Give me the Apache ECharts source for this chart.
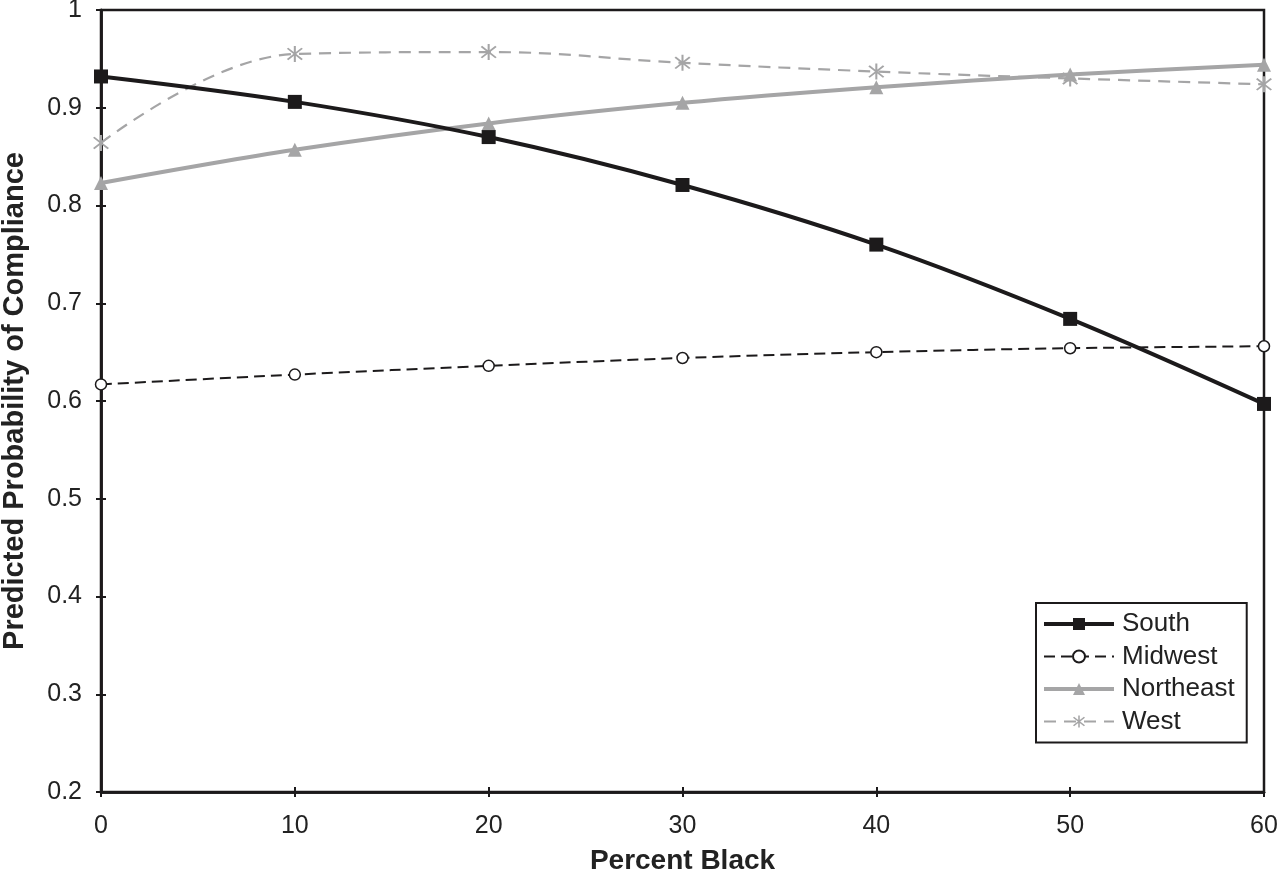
<!DOCTYPE html>
<html>
<head>
<meta charset="utf-8">
<script src="https://cdn.jsdelivr.net/npm/echarts@6/dist/echarts.min.js"></script>
<style>html,body{margin:0;padding:0;background:#fff}#c{width:1278px;height:878px}</style>
</head>
<body>
<div id="c"></div>
<script>
var percentBlack = [0, 10, 20, 30, 40, 50, 60];
var south     = [0.932, 0.906, 0.870, 0.821, 0.760, 0.684, 0.597];
var midwest   = [0.617, 0.627, 0.636, 0.644, 0.650, 0.654, 0.656];
var northeast = [0.823, 0.857, 0.884, 0.905, 0.921, 0.934, 0.944];
var west      = [0.864, 0.955, 0.957, 0.946, 0.937, 0.930, 0.924];
var seriesNames = ['South', 'Midwest', 'Northeast', 'West'];

function pairs(ys) { return percentBlack.map(function (x, i) { return [x, ys[i]]; }); }

var DARK = '#1c1a1b', GRAY = '#a5a5a6';
var FONT = '"Liberation Sans", Arial, sans-serif';
var asterisk = 'path://M9,0L11,0L11,20L9,20Z' +
  'M3.6,2.2L17.8,16.4L16.4,17.8L2.2,3.6Z' +
  'M16.4,2.2L17.8,3.6L3.6,17.8L2.2,16.4Z';

function baseX(inside, show) {
  return {
    type: 'value', min: 0, max: 60, interval: 10, position: 'bottom',
    axisLine: { show: true, onZero: false, lineStyle: { color: DARK, width: 2.5 } },
    axisTick: { show: true, inside: inside, length: 5, lineStyle: { color: DARK, width: 2 } },
    axisLabel: { show: show, color: '#222', fontSize: 25, fontFamily: FONT, margin: 22 },
    splitLine: { show: false }
  };
}
function baseY(inside, show) {
  return {
    type: 'value', min: 0.2, max: 1, interval: 0.1, position: 'left',
    axisLine: { show: true, onZero: false, lineStyle: { color: DARK, width: 2.5 } },
    axisTick: { show: true, inside: inside, length: 5, lineStyle: { color: DARK, width: 2 } },
    axisLabel: { show: show, color: '#222', fontSize: 25, fontFamily: FONT, margin: 19,
      formatter: function (v) { return String(Math.round(v * 10) / 10); } },
    splitLine: { show: false }
  };
}

var xMain = baseX(false, true);
xMain.name = 'Percent Black';
xMain.nameLocation = 'middle';
xMain.nameGap = 55;
xMain.nameTextStyle = { fontSize: 28, fontWeight: 'bold', color: '#222', fontFamily: FONT };
var yMain = baseY(false, true);
yMain.name = 'Predicted Probability of Compliance';
yMain.nameLocation = 'middle';
yMain.nameGap = 72;
yMain.nameTextStyle = { fontSize: 29, fontWeight: 'bold', color: '#222', fontFamily: FONT };

var legendWidths = { South: 4, Midwest: 2, Northeast: 4, West: 2.2 };

var chart = echarts.init(document.getElementById('c'), null, { renderer: 'canvas' });
chart.setOption({
  animation: false,
  backgroundColor: '#fff',
  grid: { left: 101, right: 14, top: 10, bottom: 86, containLabel: false, outerBoundsMode: 'none',
    show: true, borderColor: DARK, borderWidth: 2.5, backgroundColor: 'transparent' },
  xAxis: [xMain, baseX(true, false)],
  yAxis: [yMain, baseY(true, false)],
  legend: {
    orient: 'vertical', left: 1036, top: 603,
    data: seriesNames.map(function (n) { return { name: n, lineStyle: { width: legendWidths[n] } }; }),
    itemWidth: 70, itemHeight: 15, itemGap: 6.5,
    padding: [8, 12, 8, 6],
    borderColor: DARK, borderWidth: 2, backgroundColor: '#fff',
    textStyle: { fontSize: 26, color: '#222', fontFamily: FONT, padding: [0, 0, 0, 3] }
  },
  series: [
    { name: 'South', type: 'line', data: pairs(south), smooth: 0.35, z: 5,
      symbol: 'rect', symbolSize: 14,
      lineStyle: { color: DARK, width: 4 }, itemStyle: { color: DARK } },
    { name: 'Midwest', type: 'line', data: pairs(midwest), smooth: 0.35, z: 4,
      symbol: 'circle', symbolSize: 11,
      lineStyle: { color: DARK, width: 2, type: [11, 6] },
      itemStyle: { color: '#fff', borderColor: DARK, borderWidth: 1.5 } },
    { name: 'Northeast', type: 'line', data: pairs(northeast), smooth: 0.35, z: 3,
      symbol: 'triangle', symbolSize: 14,
      lineStyle: { color: GRAY, width: 4 }, itemStyle: { color: GRAY } },
    { name: 'West', type: 'line', data: pairs(west), smooth: 0.4, smoothConstraint: false, z: 2,
      symbol: asterisk, symbolSize: 16,
      lineStyle: { color: GRAY, width: 2.2, type: [12, 8] }, itemStyle: { color: GRAY } }
  ]
});
</script>
</body>
</html>
